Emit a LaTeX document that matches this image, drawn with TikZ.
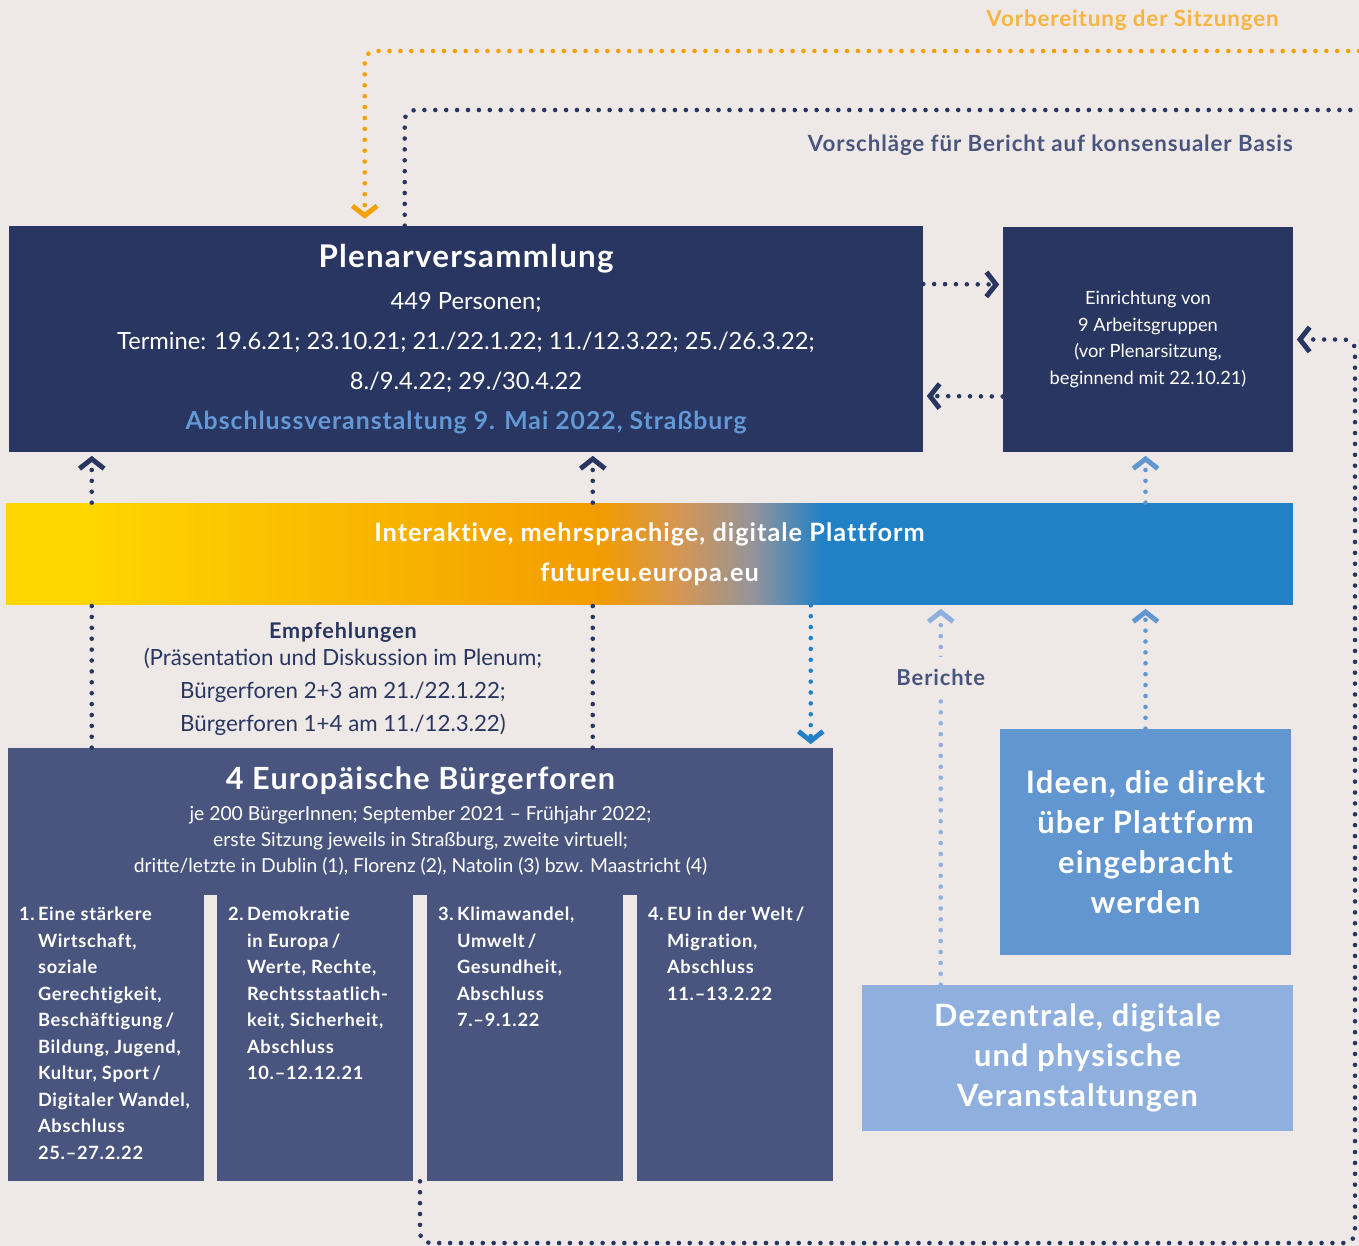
\documentclass[tikz,border=0pt]{standalone}
\usepackage{fontspec}
\setmainfont{Lato}[BoldFeatures={LetterSpace=4, Ligatures=NoCommon}]
\usepackage{xcolor}
\usepackage{tikz}
\usetikzlibrary{arrows.meta, positioning, calc}
\definecolor{paper}{RGB}{238,233,230}
\definecolor{navy}{RGB}{41,54,97}
\definecolor{slate}{RGB}{73,85,126}
\definecolor{platblue}{RGB}{34,129,198}
\definecolor{ideablue}{RGB}{97,150,208}
\definecolor{eventblue}{RGB}{143,176,222}
\definecolor{titleblue}{RGB}{98,153,214}
\definecolor{prepline}{RGB}{243,160,0}
\definecolor{preptext}{RGB}{247,180,64}
\definecolor{platyellow}{RGB}{255,214,0}
\definecolor{platorange}{RGB}{243,156,0}
\definecolor{platmix}{RGB}{212,150,84}
\definecolor{platgrey}{RGB}{148,148,154}
\pgfdeclarehorizontalshading{platshade}{100bp}{color(0bp)=(platyellow); color(28bp)=(platyellow); color(48bp)=(platorange); color(51.2bp)=(platmix); color(54bp)=(platgrey); color(56.7bp)=(platblue); color(100bp)=(platblue)}

\begin{document}
\begin{tikzpicture}[x=0.02cm, y=-0.02cm,
    box/.style={inner sep=0pt, align=center, text=white},
    dots/.style={line width=2.6pt, line cap=round, dash pattern=on 0pt off 6.2pt},
    chev/.style={-{Straight Barb[length=5.5pt, width=14pt, line width=2.8pt]}, shorten >=2pt},
    coltext/.style={inner sep=0pt, align=left, text=white, anchor=north west,
        font=\fontsize{10.4}{15.1}\selectfont\bfseries}]

\useasboundingbox (0,0) rectangle (1359,1246);
\fill[paper] (0,0) rectangle (1359,1246);

% Plenum and working groups
\node[box, fill=navy, minimum width=18.28cm, minimum height=4.52cm,
    font=\fontsize{13.5}{22.7}\selectfont] (plenum) at (466,339)
    {{\fontsize{17.8}{22.7}\selectfont\bfseries Plenarversammlung}\\[1.5pt]
     449 Personen;\\
     Termine: 19.6.21; 23.10.21; 21./22.1.22; 11./12.3.22; 25./26.3.22;\\
     8./9.4.22; 29./30.4.22\\
     {\fontsize{14.1}{22.7}\selectfont\bfseries\color{titleblue}Abschlussveranstaltung 9. Mai 2022, Straßburg}};
\node[box, fill=navy, minimum width=5.8cm, minimum height=4.5cm,
    font=\fontsize{10.4}{15.3}\selectfont] (agroups) at (1148,339.5)
    {Einrichtung von\\9 Arbeitsgruppen\\(vor Plenarsitzung,\\beginnend mit 22.10.21)};

% Platform band
\node[box, shade, shading=platshade, minimum width=25.74cm, minimum height=2.04cm,
    font=\fontsize{14.4}{22.7}\selectfont\bfseries] (platform) at (649.5,554)
    {Interaktive, mehrsprachige, digitale Plattform\\futureu.europa.eu};

% Citizens' panels
\node[box, fill=slate, minimum width=16.5cm, minimum height=2.94cm,
    font=\fontsize{11}{15}\selectfont] (forum) at (420.5,821.5)
    {{\fontsize{17.4}{15}\selectfont\bfseries 4 Europäische Bürgerforen}\\[2.2pt]
     je 200 BürgerInnen; September 2021 – Frühjahr 2022;\\
     erste Sitzung jeweils in Straßburg, zweite virtuell;\\
     dritte/letzte in Dublin (1), Florenz (2), Natolin (3) bzw. Maastricht (4)};
\node[box, fill=slate, minimum width=3.92cm, minimum height=5.72cm] (col1) at (106,1038) {};
\node[box, fill=slate, minimum width=3.92cm, minimum height=5.72cm] (col2) at (315,1038) {};
\node[box, fill=slate, minimum width=3.92cm, minimum height=5.72cm] (col3) at (525,1038) {};
\node[box, fill=slate, minimum width=3.92cm, minimum height=5.72cm] (col4) at (735,1038) {};

\node[coltext] (num1) at ($(col1.north west)+(11,12)$) {1.};
\node[coltext] (txt1) at ($(col1.north west)+(30,12)$)
    {Eine stärkere\\Wirtschaft,\\soziale\\Gerechtigkeit,\\Beschäftigung\,/\\Bildung, Jugend,\\Kultur, Sport\,/\\Digitaler Wandel,\\Abschluss\\25.–27.2.22};
\node[coltext] (num2) at ($(col2.north west)+(11,12)$) {2.};
\node[coltext] (txt2) at ($(col2.north west)+(30,12)$)
    {Demokratie\\in Europa\,/\\Werte, Rechte,\\Rechtsstaatlich-\\keit, Sicherheit,\\Abschluss\\10.–12.12.21};
\node[coltext] (num3) at ($(col3.north west)+(11,12)$) {3.};
\node[coltext] (txt3) at ($(col3.north west)+(30,12)$)
    {Klimawandel,\\Umwelt\,/\\Gesundheit,\\Abschluss\\7.–9.1.22};
\node[coltext] (num4) at ($(col4.north west)+(11,12)$) {4.};
\node[coltext] (txt4) at ($(col4.north west)+(30,12)$)
    {EU in der Welt\,/\\Migration,\\Abschluss\\11.–13.2.22};

% Ideas and events
\node[box, fill=ideablue, minimum width=5.82cm, minimum height=4.52cm,
    font=\fontsize{17.6}{22.7}\selectfont\bfseries] (ideas) at (1145.5,842)
    {Ideen, die direkt\\über Plattform\\eingebracht\\werden};
\node[box, fill=eventblue, minimum width=8.62cm, minimum height=2.92cm,
    font=\fontsize{17.5}{22.7}\selectfont\bfseries] (events) at (1077.5,1058)
    {Dezentrale, digitale\\und physische\\Veranstaltungen};

% Labels
\node[anchor=east, inner sep=0pt, text=preptext, font=\fontsize{12.7}{14}\selectfont\bfseries]
    (preplabel) at (1279,20) {Vorbereitung der Sitzungen};
\node[anchor=east, inner sep=0pt, text=slate, font=\fontsize{12.7}{14}\selectfont\bfseries]
    (proplabel) at (1293,145) {Vorschläge für Bericht auf konsensualer Basis};
\node[align=center, inner sep=0pt, text=navy, font=\fontsize{12.7}{19}\selectfont]
    (advice) at (343,679)
    {{\fontsize{12.3}{19}\selectfont\bfseries Empfehlungen}\\[-3.7pt]
     (Präsentation und Diskussion im Plenum;\\
     Bürgerforen 2+3 am 21./22.1.22;\\
     Bürgerforen 1+4 am 11./12.3.22)};

\coordinate (prepend) at (1359,51);
\coordinate (propend) at (1359,110);
\coordinate (loopcorner) at (1355,1243);

% Connectors
\draw[dots, draw=prepline, chev, rounded corners=6pt, shorten >=4pt]
    (prepend) -| ($(plenum.north west)+(356,0)$);
\draw[dots, draw=navy, rounded corners=6pt]
    ($(plenum.north west)+(396,0)$) |- (propend);
\draw[dots, draw=navy, chev] ($(plenum.east)+(0,-55)$) -- ($(agroups.west)+(0,-55)$);
\draw[dots, draw=navy, chev] ($(agroups.west)+(0,57)$) -- ($(plenum.east)+(0,57)$);
\draw[dots, draw=navy, chev] ($(platform.north west)+(86,0)$) -- ($(plenum.south west)+(83,0)$);
\draw[dots, draw=navy, chev] ($(platform.north west)+(587,0)$) -- ($(plenum.south west)+(584,0)$);
\draw[dots, draw=navy] ($(forum.north west)+(84,0)$) -- ($(platform.south west)+(86,0)$);
\draw[dots, draw=navy] ($(forum.north west)+(585,0)$) -- ($(platform.south west)+(587,0)$);
\draw[dots, draw=platblue, chev] ($(platform.south west)+(805,0)$) -- ($(forum.north west)+(803,0)$);
\draw[dots, draw=eventblue, chev] ($(events.north west)+(79,0)$)
    -- node[pos=0.81, fill=paper, inner xsep=1pt, inner ysep=7pt, text=slate,
            font=\fontsize{12.5}{14}\selectfont\bfseries] (reports) {Berichte}
    ($(platform.south west)+(935,0)$);
\draw[dots, draw=ideablue, chev] (ideas.north) -- (ideas.north |- platform.south);
\draw[dots, draw=ideablue, chev] (ideas.north |- platform.north) -- (ideas.north |- agroups.south);
\draw[dots, draw=navy, chev, rounded corners=6pt]
    ($(col2.south east)!.5!(col3.south west)$) |- (loopcorner) |- (agroups.east);
\end{tikzpicture}
\end{document}
